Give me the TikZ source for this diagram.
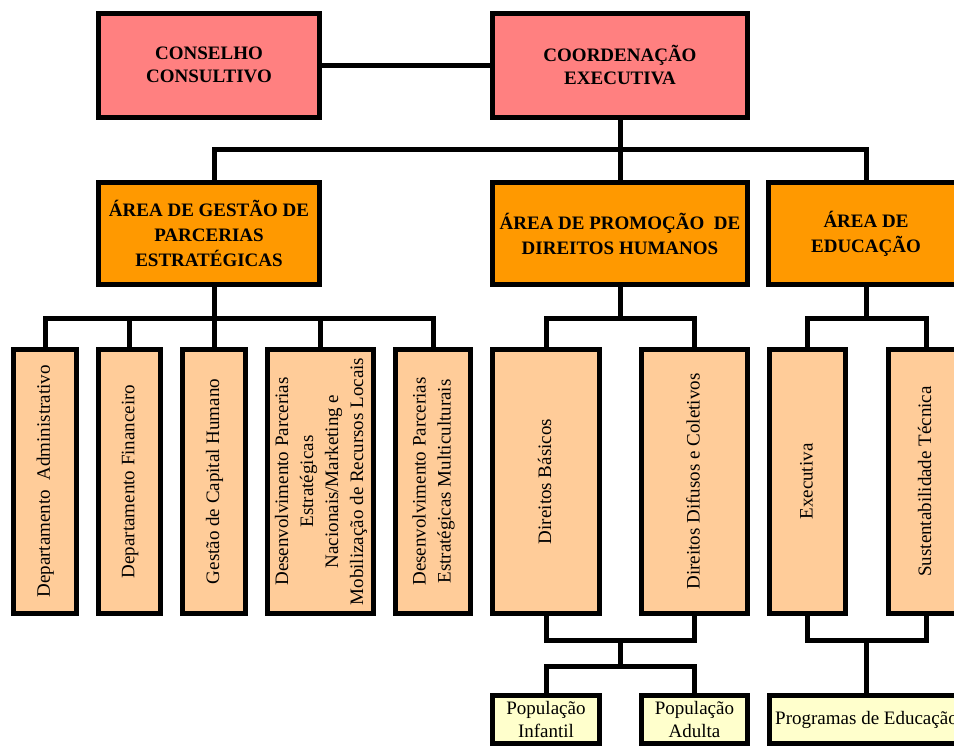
\documentclass[tikz,border=0pt]{standalone}
\usepackage{fontspec}
\setmainfont{Liberation Serif}
\usetikzlibrary{calc}
\definecolor{pinkbox}{HTML}{FF8080}
\definecolor{orangebox}{HTML}{FF9900}
\definecolor{peachbox}{HTML}{FFCC99}
\definecolor{yellowbox}{HTML}{FFFFCC}
\newcommand{\vtext}[1]{\rotatebox{90}{\begin{tabular}{@{}c@{}}#1\end{tabular}}}
\begin{document}
\begin{tikzpicture}[x=1pt,y=-1pt,
  box/.style={draw=black,line width=5pt,inner sep=0pt,align=center,anchor=center},
  topbox/.style={box,fill=pinkbox,font=\fontsize{19}{23.5}\selectfont\bfseries,minimum height=104pt},
  areabox/.style={box,fill=orangebox,font=\fontsize{19}{25}\selectfont\bfseries,minimum height=102pt},
  deptbox/.style={box,fill=peachbox,font=\fontsize{19}{25}\selectfont,minimum height=264pt},
  popbox/.style={box,fill=yellowbox,font=\fontsize{19}{23}\selectfont,minimum height=48pt},
  conn/.style={line width=5pt,line join=miter}]
\useasboundingbox (0,0) rectangle (954,747);
\clip (0,0) rectangle (954,747);

% bus levels
\coordinate (b1) at (0,149.5);
\coordinate (b2) at (0,318.5);
\coordinate (b3) at (0,640.5);
\coordinate (b4) at (0,666.5);

% top
\node[topbox,minimum width=221pt] (cc) at (209,65) {CONSELHO\\CONSULTIVO};
\node[topbox,minimum width=255pt] (ce) at (620,65) {COORDENAÇÃO\\EXECUTIVA};

% areas
\node[areabox,minimum width=221pt] (a1) at (209,233.5) {ÁREA DE GESTÃO DE\\PARCERIAS\\ESTRATÉGICAS};
\node[areabox,minimum width=255pt] (a2) at (620,233.5) {ÁREA DE PROMOÇÃO\ \ DE\\DIREITOS HUMANOS};
\node[areabox,minimum width=195pt] (a3) at (866,233.5) {ÁREA DE\\EDUCAÇÃO};

% departments
\node[deptbox,minimum width=63pt] (d1) at (45,481.5) {\vtext{Departamento\ \ Administrativo}};
\node[deptbox,minimum width=62pt] (d2) at (129.5,481.5) {\vtext{Departamento Financeiro}};
\node[deptbox,minimum width=63pt] (d3) at (214,481.5) {\vtext{Gestão de Capital Humano}};
\node[deptbox,minimum width=106pt] (d4) at (320.5,481.5) {\vtext{Desenvolvimento Parcerias\\Estratégicas\\Nacionais/Marketing e\\Mobilização de Recursos Locais}};
\node[deptbox,minimum width=75pt] (d5) at (433,481.5) {\vtext{Desenvolvimento Parcerias\\Estratégicas Multiculturais}};
\node[deptbox,minimum width=107pt] (p1) at (546,481.5) {\vtext{Direitos Básicos}};
\node[deptbox,minimum width=106pt] (p2) at (694.5,481.5) {\vtext{Direitos Difusos e Coletivos}};
\node[deptbox,minimum width=76pt] (e1) at (807.5,481.5) {\vtext{Executiva}};
\node[deptbox,minimum width=75pt] (e2) at (926,481.5) {\vtext{Sustentabilidade Técnica}};

% populations / programs
\node[popbox,minimum width=107pt] (q1) at (546,719.5) {População\\Infantil};
\node[popbox,minimum width=106pt] (q2) at (694.5,719.5) {População\\Adulta};
\node[popbox,minimum width=194pt] (q3) at (866.5,719.5) {Programas de Educação};

% connectors: top level
\draw[conn] (cc.east) -- (ce.west);
\draw[conn] (ce.south) -- (a2.north);
\draw[conn] ([xshift=5pt]a1.north) |- (a3.north |- b1) -- (a3.north);

% Gestao branch
\draw[conn] ([xshift=5pt]a1.south) -- (d3.north);
\draw[conn] (d1.north) |- (d5.north |- b2) -- (d5.north);
\draw[conn] (d2.north) -- (d2.north |- b2);
\draw[conn] (d4.north) -- (d4.north |- b2);

% Promocao branch
\draw[conn] (a2.south) -- (a2.south |- b2);
\draw[conn] (p1.north) |- (p2.north |- b2) -- (p2.north);

% Educacao branch
\draw[conn] (a3.south) -- (a3.south |- b2);
\draw[conn] (e1.north) |- (e2.north |- b2) -- (e2.north);

% bottom Promocao
\path ($(p1.south)!0.5!(p2.south)$) coordinate (pm);
\draw[conn] (p1.south) |- (p2.south |- b3) -- (p2.south);
\draw[conn] (pm |- b3) -- (pm |- b4);
\draw[conn] (q1.north) |- (q2.north |- b4) -- (q2.north);

% bottom Educacao
\draw[conn] (e1.south) |- (e2.south |- b3) -- (e2.south);
\draw[conn] (q3.north |- b3) -- (q3.north);
\end{tikzpicture}
\end{document}
